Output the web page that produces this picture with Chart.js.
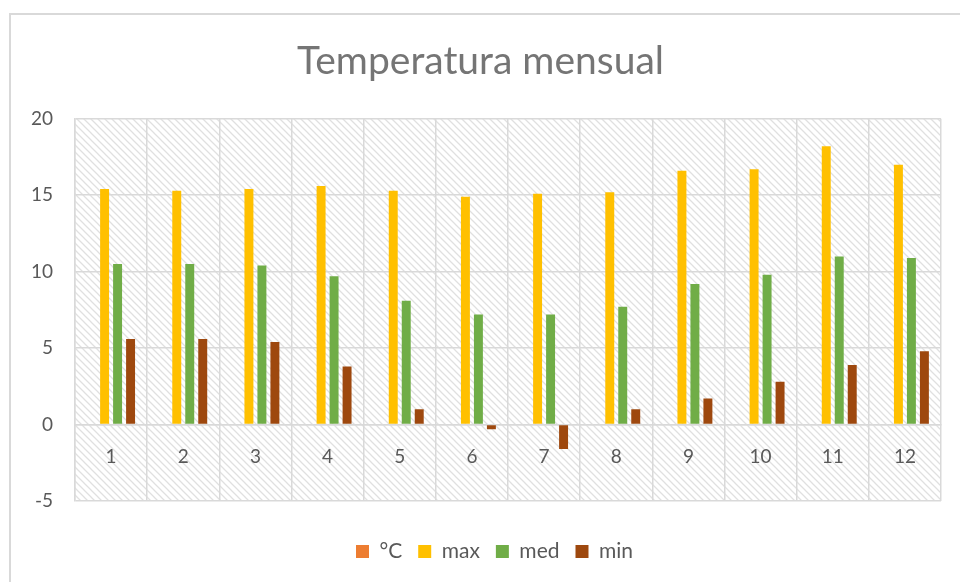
<!DOCTYPE html>
<html>
<head>
<meta charset="utf-8">
<script src="https://cdn.jsdelivr.net/npm/chart.js@4.4.0/dist/chart.umd.min.js"></script>
<style>
  html, body { margin: 0; padding: 0; background: #fff; }
  #wrap { position: relative; width: 960px; height: 582px; }
</style>
</head>
<body>
<div id="wrap"><canvas id="bar-chart"></canvas></div>
<script>
var months = ["1", "2", "3", "4", "5", "6", "7", "8", "9", "10", "11", "12"];
var tempC = [];
var tempMax = [15.4, 15.3, 15.4, 15.6, 15.3, 14.9, 15.1, 15.2, 16.6, 16.7, 18.2, 17.0];
var tempMed = [10.5, 10.5, 10.4, 9.7, 8.1, 7.2, 7.2, 7.7, 9.2, 9.8, 11.0, 10.9];
var tempMin = [5.6, 5.6, 5.4, 3.8, 1.0, -0.3, -1.6, 1.0, 1.7, 2.8, 3.9, 4.8];
var yTicks = [-5, 0, 5, 10, 15, 20];

var gridColor = "#d9d9d9";
var textColor = "#595959";
var fontFamily = "Lato, 'Open Sans', sans-serif";

// diagonal hatch for plot area
function makeHatch() {
  var s = 7;
  var c = document.createElement("canvas");
  c.width = s;
  c.height = s;
  var g = c.getContext("2d");
  g.fillStyle = "#ffffff";
  g.fillRect(0, 0, s, s);
  g.strokeStyle = "#e0e0e0";
  g.lineWidth = 1.3;
  g.beginPath();
  g.moveTo(-2, -2); g.lineTo(s + 2, s + 2);
  g.moveTo(-s - 2, -2); g.lineTo(2, s + 2);
  g.moveTo(s - 2, -2); g.lineTo(2 * s + 2, s + 2);
  g.stroke();
  return g.createPattern(c, "repeat");
}

var backdrop = {
  id: "backdrop",
  afterLayout: function(chart) {
    // legend is centred on the whole frame, not on the plot
    if (chart.legend) {
      chart.legend.left += 14;
      chart.legend.right += 14;
    }
  },
  beforeDraw: function(chart) {
    var ctx = chart.ctx;
    var a = chart.chartArea;
    ctx.save();
    // chart frame (cropped: only top + left edges visible)
    ctx.strokeStyle = gridColor;
    ctx.lineWidth = 2;
    ctx.beginPath();
    ctx.moveTo(10, 582);
    ctx.lineTo(10, 14);
    ctx.lineTo(960, 14);
    ctx.stroke();
    ctx.fillStyle = makeHatch();
    ctx.fillRect(a.left, a.top, a.right - a.left, a.bottom - a.top);
    ctx.restore();
  }
};

var config = {
  type: "bar",
  data: {
    labels: months,
    datasets: [
      { label: "°C", data: tempC, backgroundColor: "#ed7d31" },
      { label: "max", data: tempMax, backgroundColor: "#ffc000" },
      { label: "med", data: tempMed, backgroundColor: "#70ad47" },
      { label: "min", data: tempMin, backgroundColor: "#9e480e" },
    ],
  },
  options: {
    responsive: true,
    maintainAspectRatio: false,
    animation: false,
    categoryPercentage: 0.72,
    barPercentage: 0.69,
    layout: {
      padding: { left: 20, right: 19, top: 0, bottom: 10 },
    },
    plugins: {
      title: {
        display: true,
        text: "Temperatura mensual",
        color: "#757575",
        font: { family: fontFamily, size: 39, weight: "normal" },
        padding: { top: 38, bottom: 34 },
      },
      legend: {
        position: "bottom",
        title: {
          display: true,
          text: " ",
          font: { size: 10 },
          padding: { top: 12, bottom: 0 },
        },
        labels: {
          color: textColor,
          boxWidth: 13,
          boxHeight: 13,
          padding: 16,
          font: { family: fontFamily, size: 21 },
        },
      },
      tooltip: { enabled: false },
    },
    scales: {
      x: {
        position: { y: 0 },
        grid: { color: gridColor, lineWidth: 1.5, drawTicks: false, offset: true },
        border: { color: gridColor, width: 1.5 },
        ticks: {
          color: textColor,
          padding: 21,
          font: { family: fontFamily, size: 19 },
        },
      },
      y: {
        min: -5,
        max: 20,
        afterFit: function(scale) { scale.width = 55; },
        afterBuildTicks: function(scale) {
          scale.ticks = yTicks.map(function(v) { return { value: v }; });
        },
        grid: { color: gridColor, lineWidth: 1.5, drawTicks: false },
        border: { color: gridColor, width: 1.5 },
        ticks: {
          color: textColor,
          padding: 22,
          font: { family: fontFamily, size: 19 },
        },
      },
    },
  },
  plugins: [backdrop],
};

var ctx = document.getElementById("bar-chart").getContext("2d");
window.barChart = new Chart(ctx, config);
</script>
</body>
</html>
